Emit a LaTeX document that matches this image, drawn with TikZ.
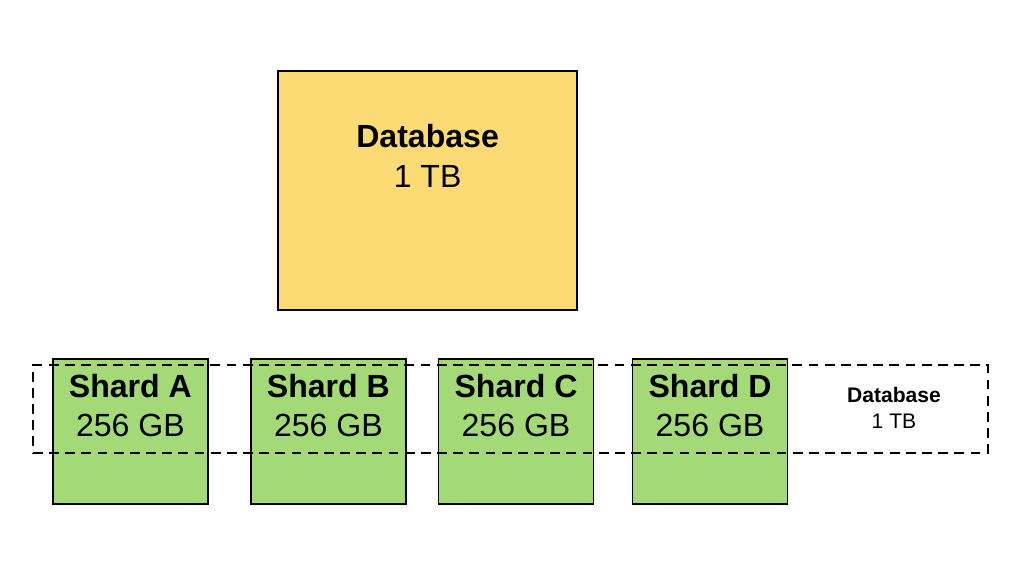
\documentclass[tikz,border=0pt]{standalone}
\usepackage{fontspec}
\setmainfont{Liberation Sans}
\usetikzlibrary{positioning}
\definecolor{dbyellow}{HTML}{FCDA74}
\definecolor{shardgreen}{HTML}{A3D977}

\begin{document}
\begin{tikzpicture}[line width=1pt,
  dbbox/.style={draw, fill=dbyellow, minimum width=7.475cm, minimum height=5.975cm, inner sep=0pt},
  shardbox/.style={draw, fill=shardgreen, minimum width=3.875cm, minimum height=3.625cm, inner sep=0pt},
  groupbox/.style={draw, line width=1.4pt, dash pattern=on 7pt off 4.5pt, minimum width=23.875cm, minimum height=2.2cm, inner sep=0pt},
  bigtxt/.style={align=center, font=\fontsize{22.8}{28}\selectfont},
  smalltxt/.style={align=center, font=\fontsize{15}{18}\selectfont}]
\useasboundingbox (0,0) rectangle (25.6,14.4);
% whole database
\node[dbbox](db) at (10.69,9.64){};
\node[bigtxt](dblbl) at (10.69,10.5){\textbf{Database}\\1 TB};
% shards
\node[shardbox](shA) at (3.26,3.61){};
\node[shardbox](shB) at (8.21,3.61){};
\node[shardbox](shC) at (12.9,3.61){};
\node[shardbox](shD) at (17.75,3.61){};
\node[bigtxt](lblA) at (3.26,4.26){\textbf{Shard A}\\256 GB};
\node[bigtxt](lblB) at (8.21,4.26){\textbf{Shard B}\\256 GB};
\node[bigtxt](lblC) at (12.9,4.26){\textbf{Shard C}\\256 GB};
\node[bigtxt](lblD) at (17.75,4.26){\textbf{Shard D}\\256 GB};
% dashed outline
\node[groupbox](grp) at (12.76,4.175){};
\node[smalltxt](grplbl) at (22.35,4.2){\textbf{Database}\\1 TB};
\end{tikzpicture}
\end{document}
